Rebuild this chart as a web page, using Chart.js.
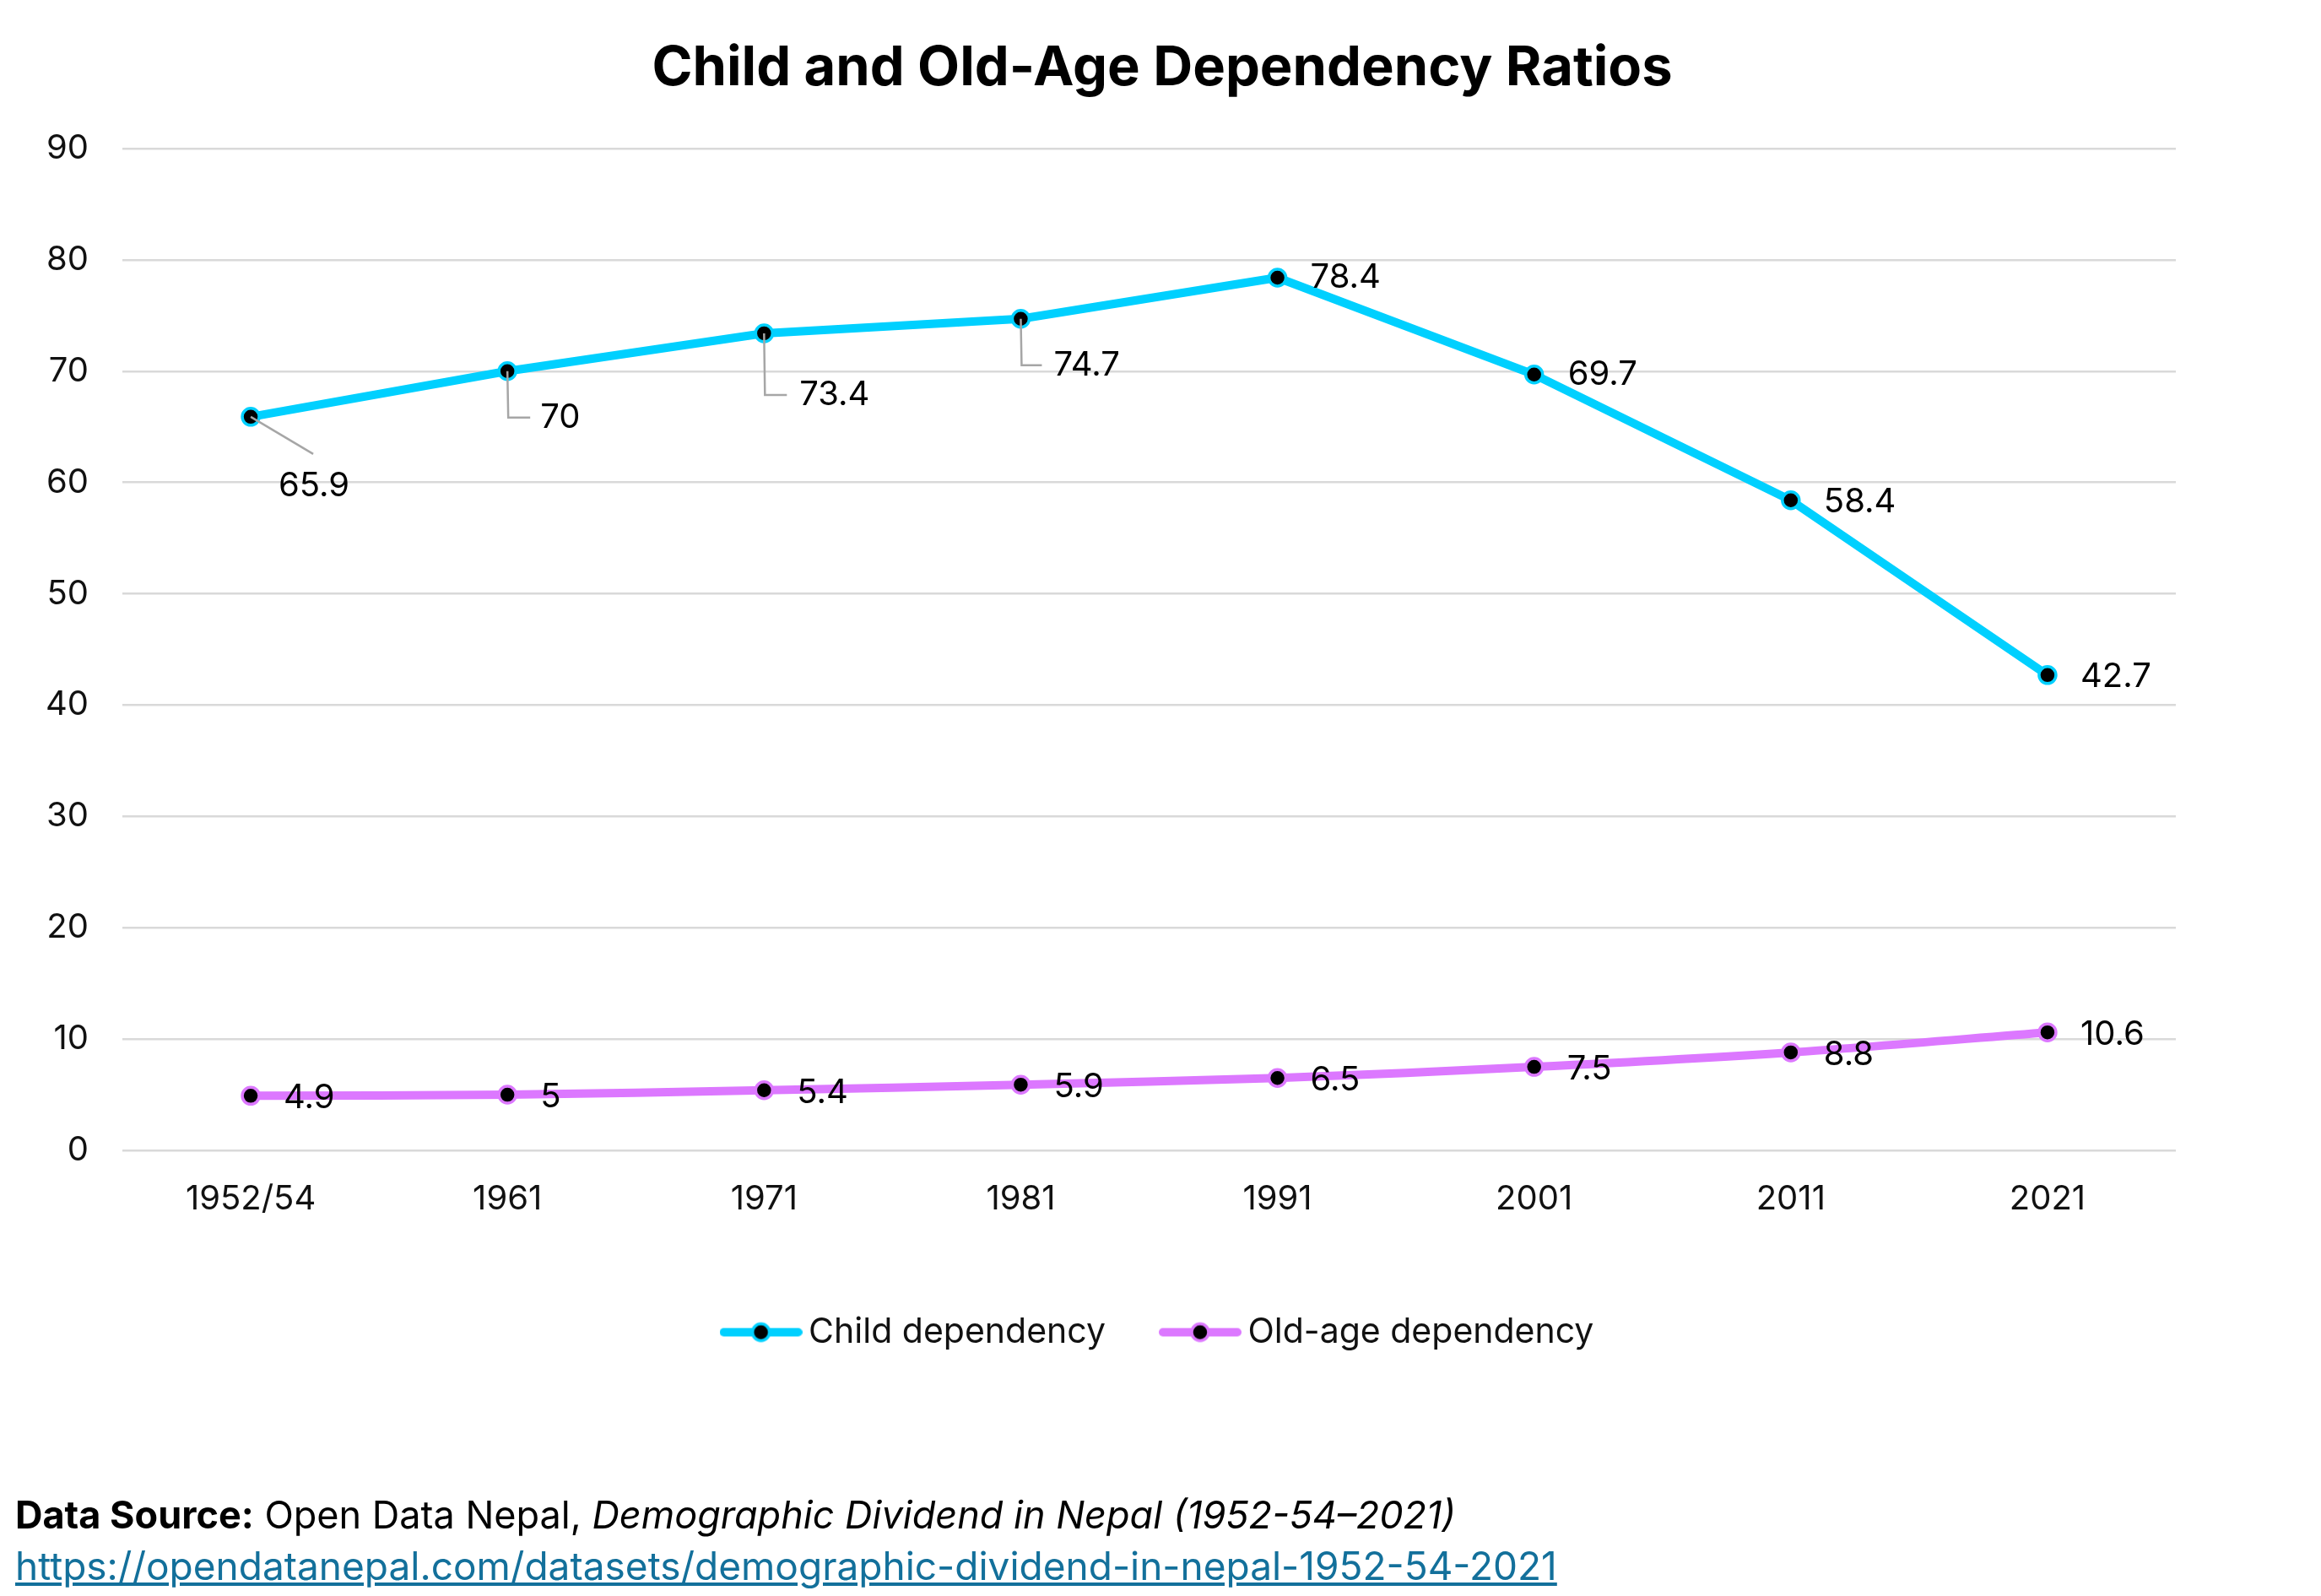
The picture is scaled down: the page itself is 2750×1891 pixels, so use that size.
<!DOCTYPE html>
<html lang="en">
<head>
  <meta charset="UTF-8">
  <title>Child and Old-Age Dependency Ratios</title>
  <script src="https://cdn.jsdelivr.net/npm/chart.js"></script>
  <style>
    html, body {
      margin: 0;
      padding: 0;
      background: #fff;
    }
    .wrap {
      position: relative;
      width: 2750px;
      height: 1891px;
    }
    .source {
      position: absolute;
      left: 18px;
      top: 1765px;
      font-family: Inter, "Noto Sans", sans-serif;
      font-size: 45px;
      line-height: 60px;
      color: #000;
    }
    .source a {
      font-size: 46px;
      color: #13709b;
      text-decoration: underline;
    }
  </style>
</head>
<body>
<div class="wrap">
  <canvas id="chart" width="2750" height="1891"></canvas>
  <div class="source">
    <div><b>Data Source:</b> Open Data Nepal, <i>Demographic Dividend in Nepal (1952-54–2021)</i></div>
    <div><a href="https://opendatanepal.com/datasets/demographic-dividend-in-nepal-1952-54-2021">https://opendatanepal.com/datasets/demographic-dividend-in-nepal-1952-54-2021</a></div>
  </div>
</div>

<script>
const censusYears = ["1952/54", "1961", "1971", "1981", "1991", "2001", "2011", "2021"];
const childDependency = [65.9, 70, 73.4, 74.7, 78.4, 69.7, 58.4, 42.7];
const oldAgeDependency = [4.9, 5, 5.4, 5.9, 6.5, 7.5, 8.8, 10.6];
const yTicks = [0, 10, 20, 30, 40, 50, 60, 70, 80, 90];

const CYAN = "#00d0ff";
const PURPLE = "#dc78ff";
const FONT = "Inter, 'Noto Sans', sans-serif";

// label placement relative to each point (px): dx, dy, align, leader type
const childLabelPos = [
  { dx: 75, dy: 82, align: "center", leader: "diag", lx: 74, ly: 44 },
  { dx: 39, dy: 55, align: "left", leader: "elbow", lx: 27 },
  { dx: 42, dy: 73, align: "left", leader: "elbow", lx: 27 },
  { dx: 39, dy: 55, align: "left", leader: "elbow", lx: 25 },
  { dx: 39, dy: 0, align: "left" },
  { dx: 40, dy: 0, align: "left" },
  { dx: 39, dy: 2, align: "left" },
  { dx: 39, dy: 2, align: "left" }
];
const oldLabelPos = oldAgeDependency.map(() => ({ dx: 39, dy: 3, align: "left" }));

function legendIcon(color) {
  const c = document.createElement("canvas");
  c.width = 98;
  c.height = 28;
  const g = c.getContext("2d");
  g.strokeStyle = color;
  g.lineWidth = 10;
  g.lineCap = "round";
  g.beginPath();
  g.moveTo(5, 14);
  g.lineTo(93, 14);
  g.stroke();
  g.beginPath();
  g.arc(49, 14, 10, 0, Math.PI * 2);
  g.fillStyle = "#000";
  g.fill();
  g.lineWidth = 3.5;
  g.stroke();
  return c;
}
const legendIcons = [legendIcon(CYAN), legendIcon(PURPLE)];

const pointLabels = {
  id: "pointLabels",
  afterDatasetsDraw(chart) {
    const ctx = chart.ctx;
    const positions = [childLabelPos, oldLabelPos];
    ctx.save();
    ctx.font = "40px " + FONT;
    ctx.textBaseline = "middle";
    chart.data.datasets.forEach((ds, di) => {
      const meta = chart.getDatasetMeta(di);
      meta.data.forEach((pt, i) => {
        const p = positions[di][i];
        if (p.leader) {
          ctx.strokeStyle = "#a6a6a6";
          ctx.lineWidth = 2.5;
          ctx.beginPath();
          ctx.moveTo(pt.x, pt.y);
          if (p.leader === "diag") {
            ctx.lineTo(pt.x + p.lx, pt.y + p.ly);
          } else {
            ctx.lineTo(pt.x + 1, pt.y + p.dy);
            ctx.lineTo(pt.x + p.lx, pt.y + p.dy);
          }
          ctx.stroke();
        }
        ctx.fillStyle = "#000";
        ctx.textAlign = p.align;
        ctx.fillText(String(ds.data[i]), pt.x + p.dx, pt.y + p.dy);
      });
    });
    ctx.restore();
  }
};

new Chart(document.getElementById("chart"), {
  type: "line",
  data: {
    labels: censusYears,
    datasets: [
      {
        label: "Child dependency",
        data: childDependency,
        borderColor: CYAN,
        backgroundColor: CYAN,
        borderWidth: 10,
        pointRadius: 10,
        pointBorderWidth: 3.5,
        pointBackgroundColor: "#000",
        pointBorderColor: CYAN,
        tension: 0
      },
      {
        label: "Old-age dependency",
        data: oldAgeDependency,
        borderColor: PURPLE,
        backgroundColor: PURPLE,
        borderWidth: 10,
        pointRadius: 10,
        pointBorderWidth: 3.5,
        pointBackgroundColor: "#000",
        pointBorderColor: PURPLE,
        tension: 0.3
      }
    ]
  },
  options: {
    responsive: false,
    animation: false,
    devicePixelRatio: 1,
    layout: {
      padding: { left: 36, right: 32, top: 20, bottom: 282 }
    },
    scales: {
      x: {
        offset: true,
        grid: { display: false },
        border: { display: false },
        ticks: { color: "#111", font: { family: FONT, size: 40 }, padding: 26 },
        afterFit(scale) { scale.height += 11; }
      },
      y: {
        min: 0,
        max: 90,
        afterBuildTicks(scale) {
          scale.ticks = yTicks.map(v => ({ value: v }));
        },
        afterFit(scale) { scale.width = 109; },
        grid: { color: "#d9d9d9", lineWidth: 2.5, drawTicks: false },
        border: { display: false },
        ticks: { color: "#111", font: { family: FONT, size: 40 }, padding: 40 }
      },
      yRight: {
        position: "right",
        grid: { display: false },
        border: { display: false },
        ticks: { display: false },
        afterFit(scale) { scale.width = 140; }
      }
    },
    plugins: {
      title: {
        display: true,
        text: "Child and Old-Age Dependency Ratios",
        color: "#000",
        font: { family: FONT, size: 65, weight: "bold" },
        padding: { top: 22, bottom: 56 }
      },
      legend: {
        position: "bottom",
        labels: {
          usePointStyle: true,
          pointStyleWidth: 72,
          padding: 76,
          color: "#111",
          font: { family: FONT, size: 41 },
          generateLabels(chart) {
            const items = Chart.defaults.plugins.legend.labels.generateLabels(chart);
            items.forEach((it, i) => { it.pointStyle = legendIcons[i]; });
            return items;
          }
        }
      },
      tooltip: { enabled: false }
    }
  },
  plugins: [pointLabels]
});
</script>
</body>
</html>
